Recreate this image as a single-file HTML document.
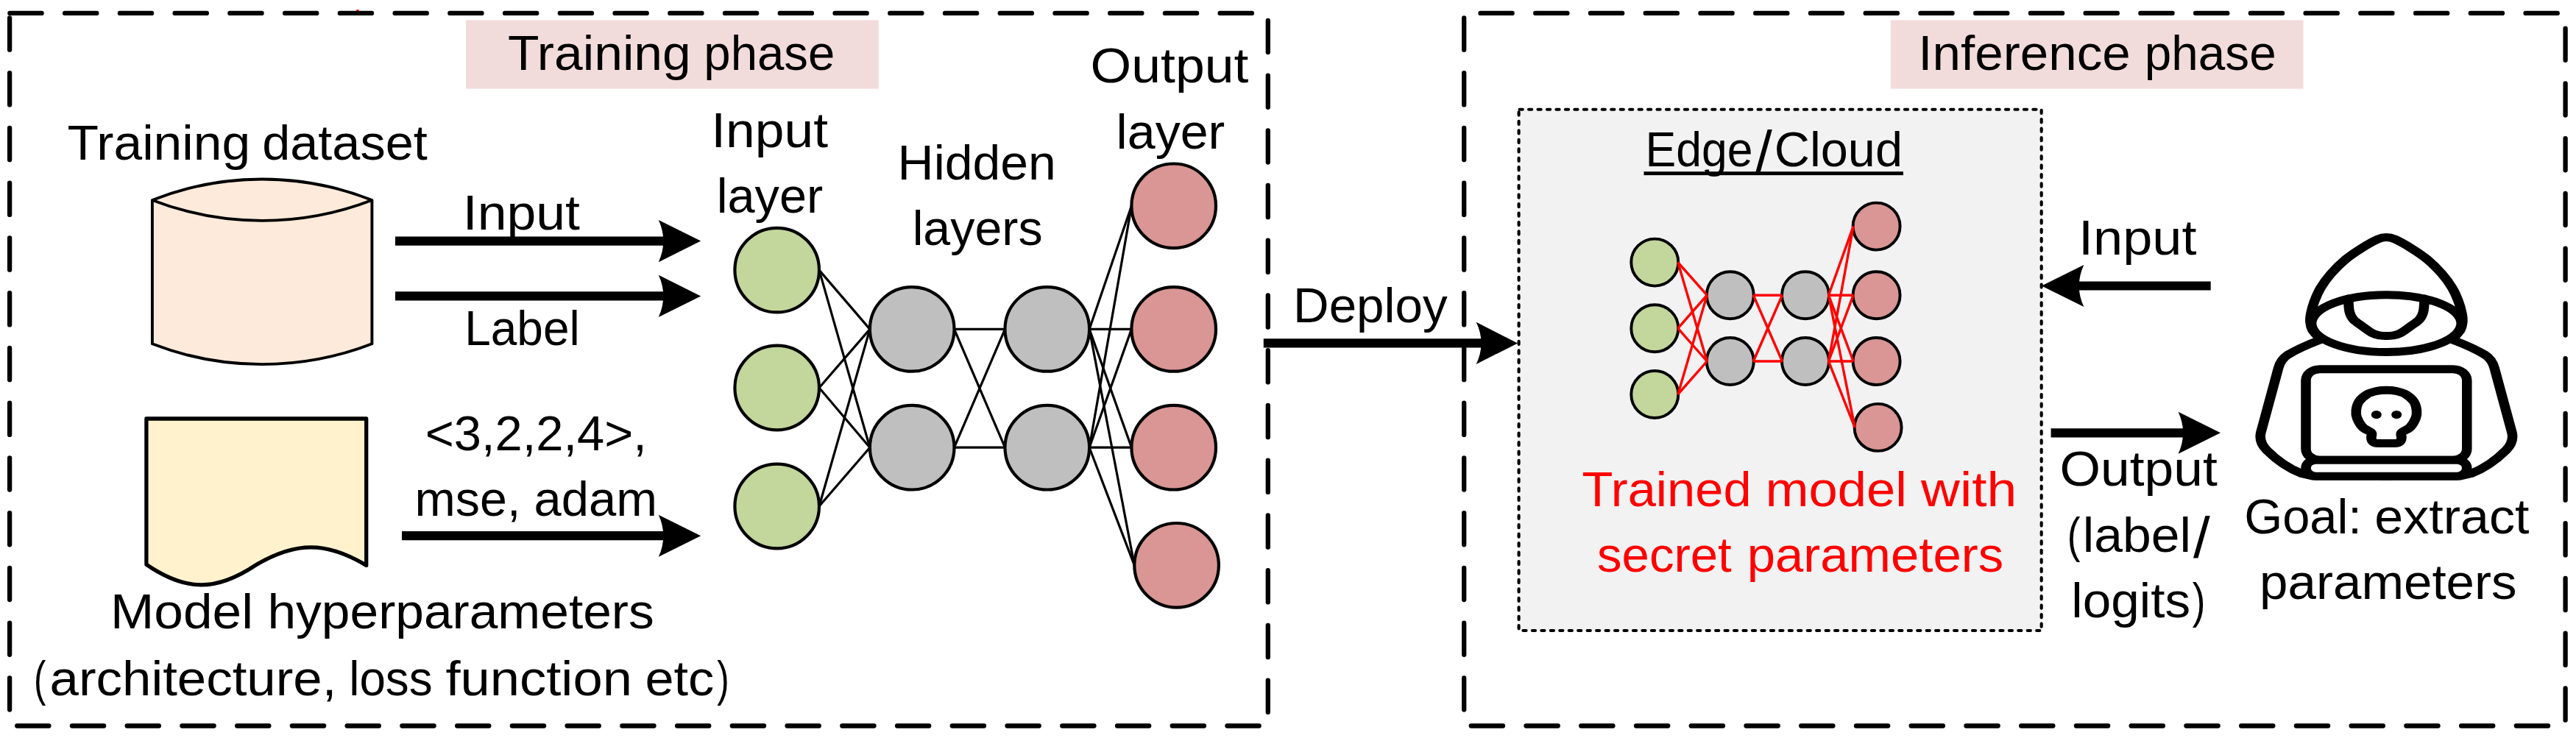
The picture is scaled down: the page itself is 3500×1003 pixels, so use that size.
<!DOCTYPE html>
<html lang="en"><head><meta charset="utf-8"><title>Model extraction: training and inference phases</title>
<style>html,body{margin:0;padding:0;background:#fff}body{width:3500px;height:1003px;overflow:hidden}svg{display:block}</style></head>
<body>
<svg width="3500" height="1003" viewBox="0 0 3500 1003" font-family="'Liberation Sans', sans-serif" font-size="67">
<rect width="3500" height="1003" fill="#fff"/>
<circle cx="485.9" cy="15.2" r="2.2" fill="#F00"/>
<g stroke="#000" stroke-width="6.3" stroke-linecap="round" stroke-dasharray="43.2 31.54" fill="none">
<line x1="13.4" y1="17.9" x2="1722.8" y2="17.9"/>
<line x1="1722.8" y1="27.8" x2="1722.8" y2="986.5"/>
<line x1="23.2" y1="986.5" x2="1722.8" y2="986.5"/>
<line x1="13.1" y1="24.5" x2="13.1" y2="986.5"/>
<line x1="2011.5" y1="17.9" x2="3485.6" y2="17.9"/>
<line x1="3485.6" y1="38.6" x2="3485.6" y2="986.5"/>
<line x1="1998.8" y1="986.5" x2="3485.6" y2="986.5"/>
<line x1="1989.2" y1="24.5" x2="1989.2" y2="986.5"/>
</g>
<rect x="633" y="27.4" width="560.8" height="93.2" fill="#F2DCDB"/>
<text y="95.1"><tspan x="689.94" textLength="248.85" lengthAdjust="spacingAndGlyphs">Training</tspan> <tspan x="956.36" textLength="177.92" lengthAdjust="spacingAndGlyphs">phase</tspan></text>
<rect x="2568.8" y="27.4" width="560.7" height="93.2" fill="#F2DCDB"/>
<text y="95.1"><tspan x="2606.35" textLength="288.4" lengthAdjust="spacingAndGlyphs">Inference</tspan> <tspan x="2913.84" textLength="178.85" lengthAdjust="spacingAndGlyphs">phase</tspan></text>
<g stroke="#000" stroke-width="3.9" stroke-linejoin="round">
<path d="M206.9,272 A405,405 0 0 1 505.4,272 V467.3 A414,414 0 0 1 206.9,467.3 Z" fill="#FDEADA"/>
<path d="M206.9,272 A414,414 0 0 0 505.4,272" fill="none"/>
</g>
<text y="217.4"><tspan x="91.44" textLength="248.64" lengthAdjust="spacingAndGlyphs">Training</tspan> <tspan x="356.19" textLength="224.55" lengthAdjust="spacingAndGlyphs">dataset</tspan></text>
<path d="M198.9,569 H497.7 V768.4 C443.7,735.7 401.5,735.7 347.5,768 C293.5,804 252.8,804 198.9,767.2 Z" fill="#FFF2CC" stroke="#000" stroke-width="5.3" stroke-linejoin="round"/>
<text y="854.4"><tspan x="149.95" textLength="194.12" lengthAdjust="spacingAndGlyphs">Model</tspan> <tspan x="363.47" textLength="525.28" lengthAdjust="spacingAndGlyphs">hyperparameters</tspan> <tspan x="46.09" y="944.5" textLength="16.32" lengthAdjust="spacingAndGlyphs">(</tspan><tspan x="67.59" textLength="389.86" lengthAdjust="spacingAndGlyphs">architecture,</tspan> <tspan x="474.21" textLength="113.47" lengthAdjust="spacingAndGlyphs">loss</tspan> <tspan x="605.42" textLength="253.55" lengthAdjust="spacingAndGlyphs">function</tspan> <tspan x="876.41" textLength="93.86" lengthAdjust="spacingAndGlyphs">etc</tspan><tspan x="974.33" textLength="16.47" lengthAdjust="spacingAndGlyphs">)</tspan></text>
<g fill="#000">
<path d="M537,321.5 H904.3 V333.7 H537 Z"/>
<path d="M952.2,327.6 L894.8,299.05 Q907.8,327.6 894.8,356.15 Z"/>
<path d="M537,396.3 H904.3 V408.5 H537 Z"/>
<path d="M952.2,402.4 L894.8,373.85 Q907.8,402.4 894.8,430.95 Z"/>
<path d="M546,722.1 H904.3 V734.3 H546 Z"/>
<path d="M952.2,728.2 L894.8,699.65 Q907.8,728.2 894.8,756.75 Z"/>
<path d="M1716.8,460.3 H2015.5 V472.5 H1716.8 Z"/>
<path d="M2062.1,466.4 L2005.7,437.85 Q2019.3,466.4 2005.7,494.95 Z"/>
<path d="M3003.7,382.4 H2821.8 V394.6 H3003.7 Z"/>
<path d="M2773.9,388.5 L2831.3,359.95 Q2818.3,388.5 2831.3,417.05 Z"/>
<path d="M2786.6,582.2 H2969.1 V594.4 H2786.6 Z"/>
<path d="M3017,588.3 L2959.6,559.75 Q2972.6,588.3 2959.6,616.85 Z"/>
</g>
<text y="311.5"><tspan x="628.83" textLength="159.02" lengthAdjust="spacingAndGlyphs">Input</tspan></text>
<text y="469"><tspan x="631.25" textLength="156.38" lengthAdjust="spacingAndGlyphs">Label</tspan></text>
<text y="611.7"><tspan x="577.76" textLength="301.14" lengthAdjust="spacingAndGlyphs">&lt;3,2,2,4&gt;,</tspan> <tspan x="563.54" y="700.6" textLength="143.84" lengthAdjust="spacingAndGlyphs">mse,</tspan> <tspan x="725.55" textLength="167.39" lengthAdjust="spacingAndGlyphs">adam</tspan></text>
<g stroke="#000" stroke-width="4.2">
<g fill="#C3D69B"><circle cx="1055.7" cy="367.1" r="57.3"/><circle cx="1055.7" cy="527" r="57.3"/><circle cx="1055.7" cy="688" r="57.3"/></g>
<g fill="#BFBFBF"><circle cx="1239.2" cy="447.4" r="57.3"/><circle cx="1239.2" cy="608.2" r="57.3"/></g>
<g fill="#BFBFBF"><circle cx="1422.8" cy="447.4" r="57.3"/><circle cx="1422.8" cy="608.2" r="57.3"/></g>
<g fill="#D99694"><circle cx="1594.7" cy="279.8" r="57.3"/><circle cx="1594.7" cy="447.4" r="57.3"/><circle cx="1594.7" cy="608.2" r="57.3"/><circle cx="1598.6" cy="768.3" r="57.3"/></g>
</g>
<g stroke="#000" stroke-width="3.2">
<line x1="1113" y1="367.1" x2="1181.9" y2="447.4"/>
<line x1="1113" y1="367.1" x2="1181.9" y2="608.2"/>
<line x1="1113" y1="527" x2="1181.9" y2="447.4"/>
<line x1="1113" y1="527" x2="1181.9" y2="608.2"/>
<line x1="1113" y1="688" x2="1181.9" y2="447.4"/>
<line x1="1113" y1="688" x2="1181.9" y2="608.2"/>
<line x1="1296.5" y1="447.4" x2="1365.5" y2="447.4"/>
<line x1="1296.5" y1="447.4" x2="1365.5" y2="608.2"/>
<line x1="1296.5" y1="608.2" x2="1365.5" y2="447.4"/>
<line x1="1296.5" y1="608.2" x2="1365.5" y2="608.2"/>
<line x1="1480.1" y1="447.4" x2="1537.4" y2="279.8"/>
<line x1="1480.1" y1="447.4" x2="1537.4" y2="447.4"/>
<line x1="1480.1" y1="447.4" x2="1537.4" y2="608.2"/>
<line x1="1480.1" y1="447.4" x2="1541.3" y2="768.3"/>
<line x1="1480.1" y1="608.2" x2="1537.4" y2="279.8"/>
<line x1="1480.1" y1="608.2" x2="1537.4" y2="447.4"/>
<line x1="1480.1" y1="608.2" x2="1537.4" y2="608.2"/>
<line x1="1480.1" y1="608.2" x2="1541.3" y2="768.3"/>
</g>
<text y="200"><tspan x="966.24" textLength="158.81" lengthAdjust="spacingAndGlyphs">Input</tspan> <tspan x="973.72" y="288.8" textLength="144.49" lengthAdjust="spacingAndGlyphs">layer</tspan></text>
<text y="243.5"><tspan x="1219.62" textLength="215.26" lengthAdjust="spacingAndGlyphs">Hidden</tspan> <tspan x="1239.64" y="333" textLength="177.01" lengthAdjust="spacingAndGlyphs">layers</tspan></text>
<text y="112"><tspan x="1481.63" textLength="214.78" lengthAdjust="spacingAndGlyphs">Output</tspan> <tspan x="1516.63" y="202" textLength="147.62" lengthAdjust="spacingAndGlyphs">layer</tspan></text>
<text y="438.2"><tspan x="1757.07" textLength="209.54" lengthAdjust="spacingAndGlyphs">Deploy</tspan></text>
<rect x="2063.6" y="148.7" width="710.1" height="708.3" fill="#F2F2F2"/>
<g stroke="#000" stroke-width="4.15" stroke-linecap="round" stroke-dasharray="4.15 8.31" fill="none">
<line x1="2064.62" y1="148.7" x2="2773.7" y2="148.7"/>
<line x1="2773.7" y1="149.73" x2="2773.7" y2="857"/>
<line x1="2069.43" y1="857" x2="2773.7" y2="857"/>
<line x1="2063.6" y1="152.43" x2="2063.6" y2="857"/>
</g>
<text y="226"><tspan x="2235.46" textLength="146.12" lengthAdjust="spacingAndGlyphs">Edge</tspan><tspan x="2385.6" y="232.5" font-size="77" textLength="22.34" lengthAdjust="spacingAndGlyphs">/</tspan><tspan x="2410.82" y="226" textLength="174.17" lengthAdjust="spacingAndGlyphs">Cloud</tspan></text>
<rect x="2233.5" y="233.2" width="352.5" height="4.9" fill="#000"/>
<g stroke="#000" stroke-width="3.9">
<g fill="#C3D69B"><circle cx="2248.3" cy="356.6" r="32.0"/><circle cx="2248.3" cy="446.2" r="32.0"/><circle cx="2248.3" cy="536" r="32.0"/></g>
<g fill="#BFBFBF"><circle cx="2350.8" cy="401.2" r="32.0"/><circle cx="2350.8" cy="491" r="32.0"/></g>
<g fill="#BFBFBF"><circle cx="2453" cy="401.2" r="32.0"/><circle cx="2453" cy="491" r="32.0"/></g>
<g fill="#D99694"><circle cx="2549.6" cy="307.6" r="32.0"/><circle cx="2549.6" cy="401.2" r="32.0"/><circle cx="2549.6" cy="491" r="32.0"/><circle cx="2551.6" cy="580.9" r="32.0"/></g>
</g>
<g stroke="#FF0000" stroke-width="3.4">
<line x1="2279.8" y1="356.6" x2="2319.3" y2="401.2"/>
<line x1="2279.8" y1="356.6" x2="2319.3" y2="491"/>
<line x1="2279.8" y1="446.2" x2="2319.3" y2="401.2"/>
<line x1="2279.8" y1="446.2" x2="2319.3" y2="491"/>
<line x1="2279.8" y1="536" x2="2319.3" y2="401.2"/>
<line x1="2279.8" y1="536" x2="2319.3" y2="491"/>
<line x1="2382.3" y1="401.2" x2="2421.5" y2="401.2"/>
<line x1="2382.3" y1="401.2" x2="2421.5" y2="491"/>
<line x1="2382.3" y1="491" x2="2421.5" y2="401.2"/>
<line x1="2382.3" y1="491" x2="2421.5" y2="491"/>
<line x1="2484.5" y1="401.2" x2="2518.1" y2="307.6"/>
<line x1="2484.5" y1="401.2" x2="2518.1" y2="401.2"/>
<line x1="2484.5" y1="401.2" x2="2518.1" y2="491"/>
<line x1="2484.5" y1="401.2" x2="2520.1" y2="580.9"/>
<line x1="2484.5" y1="491" x2="2518.1" y2="307.6"/>
<line x1="2484.5" y1="491" x2="2518.1" y2="401.2"/>
<line x1="2484.5" y1="491" x2="2518.1" y2="491"/>
<line x1="2484.5" y1="491" x2="2520.1" y2="580.9"/>
</g>
<text y="687.7" fill="#FF0000"><tspan x="2149.46" textLength="230.18" lengthAdjust="spacingAndGlyphs">Trained</tspan> <tspan x="2398.87" textLength="191.95" lengthAdjust="spacingAndGlyphs">model</tspan> <tspan x="2610.1" textLength="130.21" lengthAdjust="spacingAndGlyphs">with</tspan> <tspan x="2170" y="776.6" textLength="182.76" lengthAdjust="spacingAndGlyphs">secret</tspan> <tspan x="2373.63" textLength="348.5" lengthAdjust="spacingAndGlyphs">parameters</tspan></text>
<text y="346.3"><tspan x="2824.07" textLength="160.49" lengthAdjust="spacingAndGlyphs">Input</tspan></text>
<text y="659.7"><tspan x="2798.54" textLength="214.27" lengthAdjust="spacingAndGlyphs">Output</tspan> <tspan x="2808.72" y="750.1" textLength="17.72" lengthAdjust="spacingAndGlyphs">(</tspan><tspan x="2829.82" textLength="147.22" lengthAdjust="spacingAndGlyphs">label</tspan><tspan x="2980" y="758.1" font-size="78" textLength="22.74" lengthAdjust="spacingAndGlyphs">/</tspan> <tspan x="2814.35" y="839" textLength="161.75" lengthAdjust="spacingAndGlyphs">logits</tspan><tspan x="2978.7" textLength="17.72" lengthAdjust="spacingAndGlyphs">)</tspan></text>
<text y="724.8"><tspan x="3049.16" textLength="159.77" lengthAdjust="spacingAndGlyphs">Goal:</tspan> <tspan x="3226.33" textLength="210.17" lengthAdjust="spacingAndGlyphs">extract</tspan> <tspan x="3070.12" y="813.9" textLength="349.52" lengthAdjust="spacingAndGlyphs">parameters</tspan></text>
<g transform="translate(3242.4,480.0) scale(1.11,0.9)" fill="none" stroke="#000" stroke-width="12.2" stroke-linejoin="round" stroke-linecap="round"><path d="M-81.08,-20.11 C-96.76,-12.78 -112.07,-3.89 -121.08,2.78 C-127.39,7.78 -130.54,14.44 -132.34,23 L-153.69,120 C-155.77,130.56 -152.61,138.89 -146.31,146.67 C-135.5,160 -120.18,173.89 -103.96,181.67 L-90.45,185.44 L6.85,185.44"/><path d="M81.08,-20.11 C96.76,-12.78 112.07,-3.89 121.08,2.78 C127.39,7.78 130.54,14.44 132.34,23 L153.69,120 C155.77,130.56 152.61,138.89 146.31,146.67 C135.5,160 120.18,173.89 103.96,181.67 L90.45,185.44 L-6.85,185.44"/><path d="M-84.05,-25.44 C-85.17,-27.11 -89.2,-31.93 -90.72,-35.44 C-92.24,-38.96 -92.85,-42.63 -93.15,-46.56 C-93.45,-50.48 -93.36,-53.69 -92.52,-59 C-91.68,-64.31 -90.12,-71.81 -88.11,-78.44 C-86.1,-85.07 -83.81,-91.87 -80.45,-98.78 C-77.09,-105.69 -73.03,-112.72 -67.93,-119.89 C-62.82,-127.06 -56.2,-135.24 -49.82,-141.78 C-43.44,-148.31 -36.19,-154.06 -29.64,-159.11 C-23.09,-164.17 -15.48,-169.48 -10.54,-172.11 C-5.6,-174.74 -3.51,-174.89 0,-174.89 C3.51,-174.89 5.6,-174.74 10.54,-172.11 C15.48,-169.48 23.09,-164.17 29.64,-159.11 C36.19,-154.06 43.44,-148.31 49.82,-141.78 C56.2,-135.24 62.82,-127.06 67.93,-119.89 C73.03,-112.72 77.09,-105.69 80.45,-98.78 C83.81,-91.87 86.1,-85.07 88.11,-78.44 C90.12,-71.81 91.68,-64.31 92.52,-59 C93.36,-53.69 93.45,-50.48 93.15,-46.56 C92.85,-42.63 92.24,-38.96 90.72,-35.44 C89.2,-31.93 85.17,-27.11 84.05,-25.44"/><ellipse cx="0" cy="-44.89" rx="91.71" ry="43.22"/><path d="M-46.67,-82.22 C-46.43,-78.98 -46.28,-68.02 -45.23,-62.78 C-44.17,-57.54 -43.12,-54.59 -40.36,-50.78 C-37.6,-46.96 -32.61,-43.37 -28.65,-39.89 C-24.68,-36.41 -20.09,-32.09 -16.58,-29.89 C-13.06,-27.69 -10.33,-27.31 -7.57,-26.67 C-4.8,-26.02 -2.52,-26 0,-26 C2.52,-26 4.8,-26.02 7.57,-26.67 C10.33,-27.31 13.06,-27.69 16.58,-29.89 C20.09,-32.09 24.68,-36.41 28.65,-39.89 C32.61,-43.37 37.6,-46.96 40.36,-50.78 C43.12,-54.59 44.17,-57.54 45.23,-62.78 C46.28,-68.02 46.43,-78.98 46.67,-82.22"/><rect x="-98.56" y="24.11" width="197.12" height="137.22" rx="17" fill="#fff"/><rect x="-98.56" y="161.33" width="197.12" height="24.44" rx="12.22" fill="#fff"/><path d="M-18.56,126.67 C-18.56,125.56 -16.79,122.5 -18.56,120 C-20.33,117.5 -26.29,115.37 -29.19,111.67 C-32.09,107.96 -34.64,101.94 -35.95,97.78 C-37.25,93.61 -37.4,90.74 -37.03,86.67 C-36.65,82.59 -35.9,77.41 -33.69,73.33 C-31.49,69.26 -27.39,64.91 -23.78,62.22 C-20.18,59.54 -16.04,58.28 -12.07,57.22 C-8.11,56.17 -4.02,55.89 0,55.89 C4.02,55.89 8.11,56.17 12.07,57.22 C16.04,58.28 20.18,59.54 23.78,62.22 C27.39,64.91 31.49,69.26 33.69,73.33 C35.9,77.41 36.65,82.59 37.03,86.67 C37.4,90.74 37.25,93.61 35.95,97.78 C34.64,101.94 32.09,107.96 29.19,111.67 C26.29,115.37 20.33,117.5 18.56,120 C16.79,122.5 18.56,125.56 18.56,126.67 Q18.56,136.22 10.45,136.22 H-10.45 Q-18.56,136.22 -18.56,126.67 Z"/><circle cx="-12.25" cy="92.89" r="6.3" fill="#000" stroke="none"/><circle cx="12.43" cy="92.89" r="6.3" fill="#000" stroke="none"/></g>
</svg>
</body></html>
